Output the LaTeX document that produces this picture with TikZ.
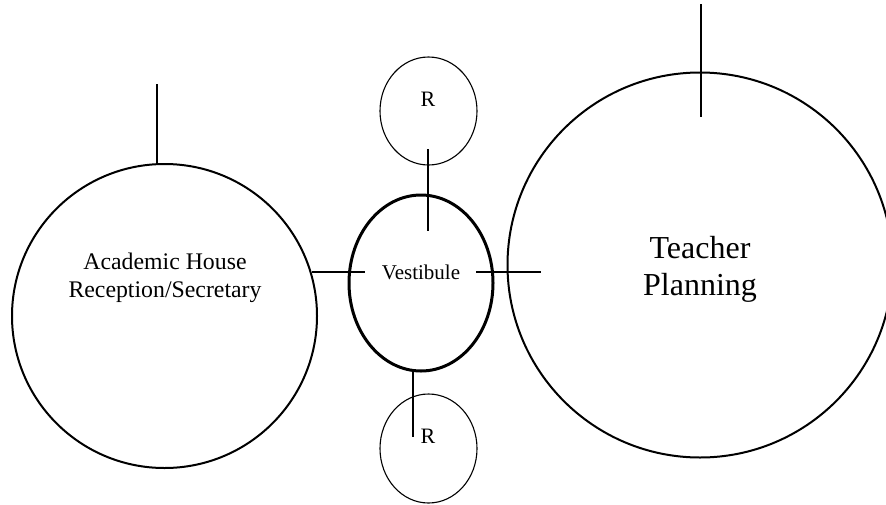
\documentclass[tikz,border=0pt]{standalone}
\usepackage{fontspec}
\setmainfont{Liberation Serif}
\usetikzlibrary{shapes.geometric}
\begin{document}
\begin{tikzpicture}[x=1pt,y=-1pt,
  room/.style={draw, ellipse, inner sep=0pt, line width=2pt},
  smallroom/.style={draw, ellipse, inner sep=0pt, line width=1.1pt},
  vest/.style={draw, ellipse, inner sep=0pt, line width=3pt},
  stub/.style={line width=1.3pt},
  lbl/.style={inner sep=0pt, align=center}]
\useasboundingbox (0,0) rectangle (886,504);
% rooms
\node[room, minimum width=305pt, minimum height=304pt] (acad) at (164.5,316) {};
\node[room, minimum width=385pt, minimum height=385pt] (teach) at (700,265) {};
\node[vest, minimum width=144pt, minimum height=176pt] (vest) at (421,283) {};
\node[smallroom, minimum width=97pt, minimum height=108pt] (rtop) at (428.5,111) {};
\node[smallroom, minimum width=97pt, minimum height=109pt] (rbot) at (428.5,448.5) {};
% labels
\node[lbl, font=\fontsize{23.8}{28}\selectfont] (acadtxt) at (165,278) {Academic House\\Reception/Secretary};
\node[lbl, font=\fontsize{32}{37}\selectfont] (teachtxt) at (700,269.5) {Teacher\\Planning};
\node[lbl, font=\fontsize{21}{25}\selectfont] (vesttxt) at (421,272) {Vestibule};
\node[lbl, font=\fontsize{22}{26}\selectfont] (rtoptxt) at (428,99) {R};
\node[lbl, font=\fontsize{22}{26}\selectfont] (rbottxt) at (428,436) {R};
% stubs
\coordinate (a1) at (157,84);
\coordinate (a2) at (157,164);
\coordinate (t1) at (701,4);
\coordinate (t2) at (701,117);
\coordinate (h1) at (312,272);
\coordinate (h2) at (365,272);
\coordinate (h3) at (476,272);
\coordinate (h4) at (541,272);
\coordinate (v1) at (428,149);
\coordinate (v2) at (428,231);
\coordinate (v3) at (413,371);
\coordinate (v4) at (413,437);
\draw[stub] (a1) -- (a2);
\draw[stub] (t1) -- (t2);
\draw[stub] (h1) -- (h2);
\draw[stub] (h3) -- (h4);
\draw[stub] (v1) -- (v2);
\draw[stub] (v3) -- (v4);
\end{tikzpicture}
\end{document}
